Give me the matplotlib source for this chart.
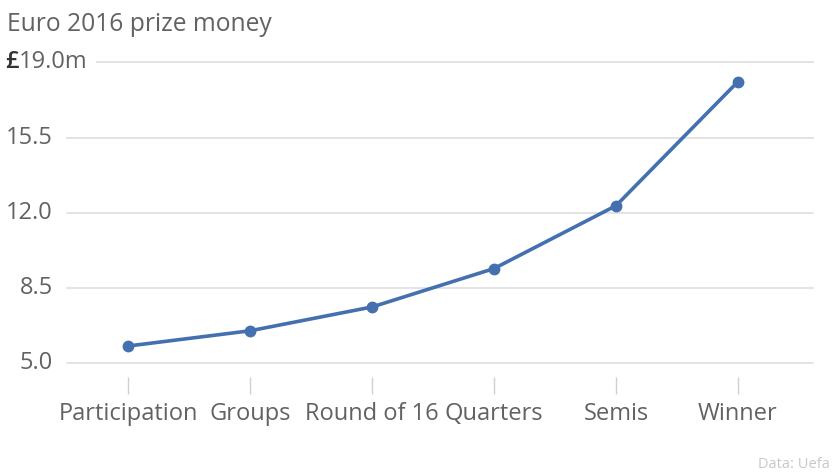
import matplotlib
matplotlib.use("Agg")
import matplotlib.pyplot as plt

stages = ["Participation", "Groups", "Round of 16", "Quarters", "Semis", "Winner"]
prize_m = [5.79, 6.5, 7.61, 9.4, 12.33, 18.11]
y_ticks = [5.0, 8.5, 12.0, 15.5, 19.0]

LINE = "#4470b0"
TEXT = "#626262"
GRID = "#dedede"

plt.rcParams["font.family"] = ["Open Sans", "DejaVu Sans"]

W, H = 839, 472
fig = plt.figure(figsize=(W / 100, H / 100), dpi=100)

# axes placed in pixels: left 67, right 813, top 62.5, bottom 377
left, right, top, bottom = 67, 813, 62.5, 377
ax = fig.add_axes([left / W, 1 - bottom / H, (right - left) / W, (bottom - top) / H])

px_per_unit = (363 - 62.5) / (19.0 - 5.0)
ax.set_ylim(5.0 - (bottom - 363) / px_per_unit, 19.0)
step = 122
ax.set_xlim(-(128 - left) / step, 5 + (right - 738) / step)

for s in ax.spines.values():
    s.set_visible(False)

for v in y_ticks:
    xmin = (97 - left) / (right - left) if v == y_ticks[-1] else 0
    ax.axhline(v, xmin=xmin, color=GRID, lw=1.2, zorder=0, clip_on=False)

ax.plot(range(len(stages)), prize_m, color=LINE, lw=2.6, marker="o", ms=7.5,
        solid_capstyle="round", zorder=3)

ax.set_xticks(range(len(stages)))
ax.set_xticklabels(stages, fontsize=17, color=TEXT)
ax.tick_params(axis="x", length=12, width=1, color="#d0d0d0", pad=6)
ax.set_yticks([])

ytrans = ax.get_yaxis_transform()
lab_x = (53 - left) / (right - left)
for v in y_ticks[:-1]:
    ax.text(lab_x, v, f"{v:.1f}", transform=ytrans, ha="right", va="center",
            fontsize=17, color=TEXT)
# top label: darker pound sign, then the number with unit
pound_x = (5 - left) / (right - left)
ax.text(pound_x, y_ticks[-1], "£", transform=ytrans, ha="left", va="center",
        fontsize=17, color="#333333", fontweight="semibold")
ax.text((19 - left) / (right - left), y_ticks[-1], f"{y_ticks[-1]:.1f}m",
        transform=ytrans, ha="left", va="center", fontsize=17, color=TEXT)

fig.text(7 / W, 1 - 31 / H, "Euro 2016 prize money", fontsize=17.7, color=TEXT,
         ha="left", va="baseline")
fig.text(830 / W, 1 - 468 / H, "Data: Uefa", fontsize=10.5, color="#c8c8c8",
         ha="right", va="baseline")

fig.savefig("out.png", dpi=100)
